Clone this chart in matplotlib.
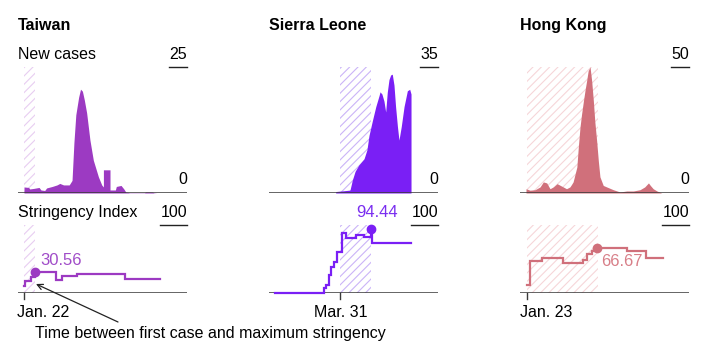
import matplotlib.pyplot as plt

plt.rcParams['font.family'] = ['Liberation Sans', 'DejaVu Sans']
plt.rcParams['hatch.linewidth'] = 0.8

W, H = 718, 358

# x values are days counted from Jan. 22
names = ["Taiwan", "Sierra Leone", "Hong Kong"]
case_top = [25, 35, 50]
colors = ["#9c3ac2", "#7a1ff5", "#d0707b"]
hatch_colors = ["#e8cdf1", "#cbb4f7", "#f6d6d9"]

# new cases
tw_case_days = [0, 0, 5, 6, 10, 16, 18, 22, 24, 30, 35, 38, 42, 48, 51, 53, 55, 58, 60, 62, 64,
                66.5, 70, 73.6, 79, 82.5, 84.3, 84.3, 91.3, 91.3, 97, 98, 103, 106, 108, 112,
                128, 129, 136, 138, 141]
tw_cases = [0, 1.2, 1.1, 0.8, 0.9, 1.1, 0.6, 0.5, 1.0, 1.3, 1.6, 1.9, 1.6, 1.6, 2.5, 10, 15.5, 19,
            20.6, 20.2, 18.5, 15.9, 10.5, 6.5, 3.2, 1.6, 1.2, 4.6, 4.6, 0.6, 0.6, 1.3, 1.5, 0.8,
            0.2, 0.05, 0.05, 0.2, 0.2, 0.05, 0]

sl_case_days = [64.4, 64.4, 79.6, 82, 85, 89, 94.5, 97.6, 99.8, 103.3, 107, 110.4, 111.5, 113.5,
                115.7, 117.5, 119.2, 121, 122.8, 124.5, 126.3, 128, 130, 131.6, 134, 137, 140.5,
                143, 144.4, 144.4]
sl_cases = [0, 0.4, 0.8, 3.5, 6, 7.8, 9.5, 12, 16, 20, 24, 27, 28.1, 27.5, 25.5, 22.5, 28, 31.5,
            32.8, 33, 30, 24, 18.4, 14.7, 18.4, 24, 28.4, 28.8, 27.5, 0]

hk_case_days = [0, 0, 4.2, 9.6, 14.9, 18.4, 22, 25.5, 29, 33, 38, 43, 46.7, 50, 54, 55.5, 57.3,
                59, 61, 62.6, 64.4, 66, 68, 69.7, 71.5, 73, 75, 76.8, 78.5, 82, 85.7, 92.7, 99.8,
                107, 114, 121, 126, 130, 132, 135, 139, 144]
hk_cases = [0, 1.7, 1.1, 1.3, 2.4, 4.4, 4.0, 1.7, 2.4, 3.7, 2.7, 1.7, 2.4, 4.4, 10.3, 18, 26,
            31.3, 36.6, 40.6, 44.6, 48.5, 50, 44.6, 36.6, 28.6, 20.7, 12.7, 6.4, 3.0, 2.4, 1.3,
            0.4, 0.8, 0.8, 1.3, 2.4, 4.0, 3.0, 1.7, 0.8, 0]

# stringency index, value from each day onwards
tw_str_days = [0, 1, 7, 11.5, 34, 40, 56, 107, 144]
tw_str = [10.19, 17.59, 24.07, 30.56, 19.44, 25.0, 27.78, 21.3, 21.3]
sl_str_days = [0, 52, 54, 57, 59, 63, 66, 71.5, 75, 86, 94.5, 101.5, 102.8, 144]
sl_str = [0, 6.94, 11.11, 25.93, 38.89, 46.3, 60.19, 87.96, 80.56, 85.19, 82.41, 94.44, 74.07, 74.07]
hk_str_days = [1, 4.2, 16.6, 39.6, 61, 64.4, 69.7, 75.7, 107, 127, 145]
hk_str = [11.11, 47.22, 51.85, 43.52, 48.15, 57.41, 62.04, 66.67, 61.11, 51.85, 51.85]

max_points = [(11.5, 30.56), (101.5, 94.44), (75.7, 66.67)]
max_labels = ["30.56", "94.44", "66.67"]
bands = [(0, 11.7), (68.7, 102.2), (0.7, 76.8)]
date_ticks = [0, 69, 1]
date_labels = ["Jan. 22", "Mar. 31", "Jan. 23"]

case_days = [tw_case_days, sl_case_days, hk_case_days]
cases = [tw_cases, sl_cases, hk_cases]
str_days = [tw_str_days, sl_str_days, hk_str_days]
strs = [tw_str, sl_str, hk_str]

FS = 11.5

fig = plt.figure(figsize=(W / 100, H / 100), dpi=100)
renderer = fig.canvas.get_renderer()


def box(left, top, right, bottom):
    return [left / W, 1 - bottom / H, (right - left) / W, (bottom - top) / H]


def ptext(x, y, s, **kw):
    kw.setdefault("va", "baseline")
    kw.setdefault("fontsize", FS)
    return fig.text(x / W, 1 - y / H, s, **kw)


def top_label(x_right, y_base, y_line, s):
    t = ptext(x_right, y_base, s, ha="right")
    bb = t.get_window_extent(renderer=renderer)
    fig.add_artist(plt.Line2D([bb.x0 / W, x_right / W], [1 - y_line / H] * 2,
                              color="#222222", lw=1.0))


lefts = [18, 269, 520]
pw = 169
px_per_day = 0.942
x0 = -6.37
x1 = x0 + pw / px_per_day

for i in range(3):
    L = lefts[i]
    R = L + pw
    c = colors[i]

    # new cases panel
    ax = fig.add_axes(box(L, 67, R, 193))
    ax.set_xlim(x0, x1)
    ax.set_ylim(0, case_top[i])
    ax.axis("off")
    ax.axvspan(bands[i][0], bands[i][1], facecolor="none", edgecolor=hatch_colors[i],
               hatch="////", lw=0, zorder=1)
    ax.fill_between(case_days[i], cases[i], color=c, lw=0, zorder=2)
    ax.axhline(0, color="#3a3a3a", lw=1.1, zorder=3)

    ptext(L, 30, names[i], fontweight="bold")
    top_label(R, 59, 67, str(case_top[i]))
    ptext(R, 184, "0", ha="right")

    # stringency panel
    ax2 = fig.add_axes(box(L, 225, R, 293))
    ax2.set_xlim(x0, x1)
    ax2.set_ylim(0, 100)
    ax2.axis("off")
    ax2.axvspan(bands[i][0], bands[i][1], facecolor="none", edgecolor=hatch_colors[i],
                hatch="////", lw=0, zorder=1)
    ax2.axhline(0, color="#3a3a3a", lw=1.1, zorder=3)
    ax2.step(str_days[i], strs[i], where="post", color=c, lw=1.6, zorder=4, clip_on=False,
             solid_joinstyle="miter")
    mx, my = max_points[i]
    ax2.plot([mx], [my], "o", color=c, ms=6, zorder=5, clip_on=False)
    ax2.plot([date_ticks[i]] * 2, [0, -9], color="#3a3a3a", lw=1.0, clip_on=False)
    top_label(R, 217, 225, "100")

ptext(18, 59, "New cases")
ptext(18, 217, "Stringency Index")
ptext(40, 265, max_labels[0], color="#a04cc8", fontsize=12)
ptext(377, 217, max_labels[1], color="#7a2ef0", fontsize=12, ha="center")
ptext(601, 266, max_labels[2], color="#d87f88", fontsize=12)

ptext(17, 317, date_labels[0])
ptext(341, 317, date_labels[1], ha="center")
ptext(520, 317, date_labels[2])

ptext(35, 338, "Time between first case and maximum stringency")
fig.add_artist(plt.Annotation("", xy=(36, H - 284), xytext=(118, H - 322),
                              xycoords="figure pixels", textcoords="figure pixels",
                              arrowprops=dict(arrowstyle="->", color="#222222", lw=0.9,
                                              shrinkA=0, shrinkB=0)))

fig.savefig("out.png", dpi=100)
